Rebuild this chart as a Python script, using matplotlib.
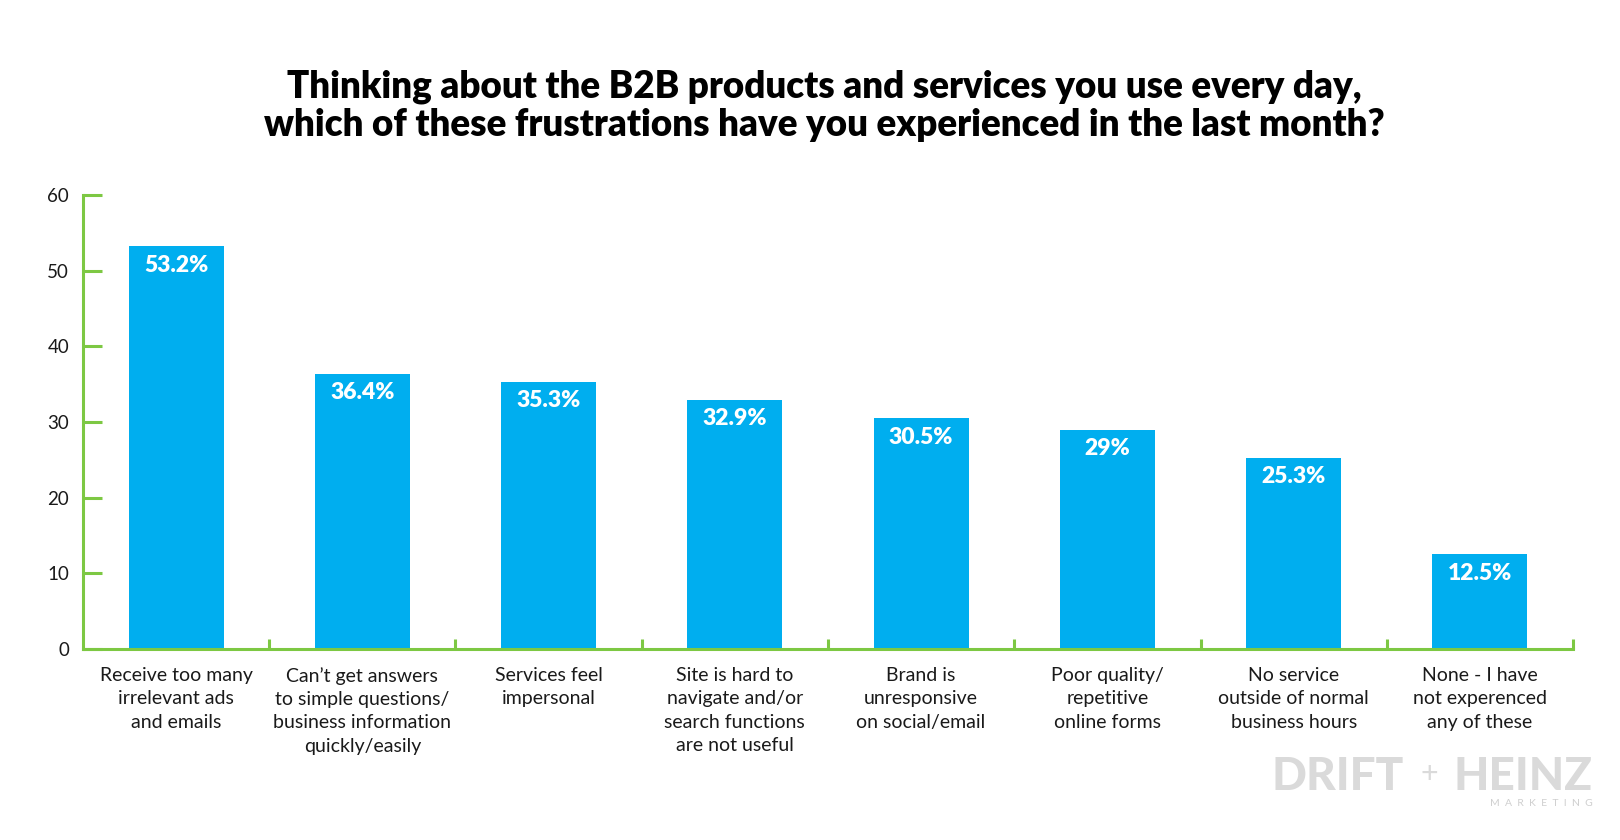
import matplotlib
matplotlib.use("Agg")
import matplotlib.pyplot as plt
from matplotlib.ticker import FixedLocator

categories = [
    "Receive too many\nirrelevant ads\nand emails",
    "Can\u2019t get answers\nto simple questions/\nbusiness information\nquickly/easily",
    "Services feel\nimpersonal",
    "Site is hard to\nnavigate and/or\nsearch functions\nare not useful",
    "Brand is\nunresponsive\non social/email",
    "Poor quality/\nrepetitive\nonline forms",
    "No service\noutside of normal\nbusiness hours",
    "None - I have\nnot experenced\nany of these",
]
values = [53.2, 36.4, 35.3, 32.9, 30.5, 29, 25.3, 12.5]
value_labels = ["53.2%", "36.4%", "35.3%", "32.9%", "30.5%", "29%", "25.3%", "12.5%"]
yticks = [0, 10, 20, 30, 40, 50, 60]

title = ("Thinking about the B2B products and services you use every day,\n"
         "which of these frustrations have you experienced in the last month?")

BAR = "#00AEEF"
GREEN = "#7DC843"
TEXT = "#1a1a1a"
plt.rcParams['font.family'] = ['Lato', 'DejaVu Sans']

fig = plt.figure(figsize=(16.2, 8.4), dpi=100)
ax = fig.add_axes([0.0512, 0.2274, 0.9198, 0.5405])

x = list(range(len(categories)))
ax.bar(x, values, width=0.51, color=BAR, zorder=2)

for xi, v, lab in zip(x, values, value_labels):
    ax.annotate(lab, (xi, v), xytext=(0, -6), textcoords="offset points",
                ha="center", va="top", color="white", fontsize=16.5,
                fontweight="heavy")

ax.set_xlim(-0.5, 7.5)
ax.set_ylim(0, 60)
ax.set_yticks(yticks)
ax.set_xticks(x)
ax.set_xticklabels(categories, fontsize=14, color=TEXT, linespacing=1.45)
ax.xaxis.set_minor_locator(FixedLocator([i + 0.5 for i in x]))

for s in ["top", "right"]:
    ax.spines[s].set_visible(False)
for s in ["left", "bottom"]:
    ax.spines[s].set_color(GREEN)
    ax.spines[s].set_linewidth(2.2)

ax.tick_params(axis="y", direction="in", length=14, width=2.2, color=GREEN,
               labelsize=13.5, labelcolor=TEXT, pad=10)
ax.tick_params(axis="x", which="major", length=0, pad=13)
ax.tick_params(axis="x", which="minor", direction="in", length=7, width=2.2,
               color=GREEN)

fig.text(0.509, 0.874, title, ha="center", va="center", fontsize=26.5,
         fontweight="heavy", color="black", linespacing=1.12)

# Logo
fig.text(0.785, 0.075, "DRIFT", fontsize=33, fontweight="black", color="#DADADA",
         ha="left", va="center")
fig.text(0.882, 0.078, "+", fontsize=22, color="#DADADA", ha="center", va="center")
fig.text(0.897, 0.075, "HEINZ", fontsize=33, fontweight="black", color="#DADADA",
         ha="left", va="center")
fig.text(0.983, 0.044, "M  A  R  K  E  T  I  N  G", fontsize=7.5, color="#CFCFCF",
         ha="right", va="center")

fig.savefig("out.png", dpi=100, facecolor="white")
